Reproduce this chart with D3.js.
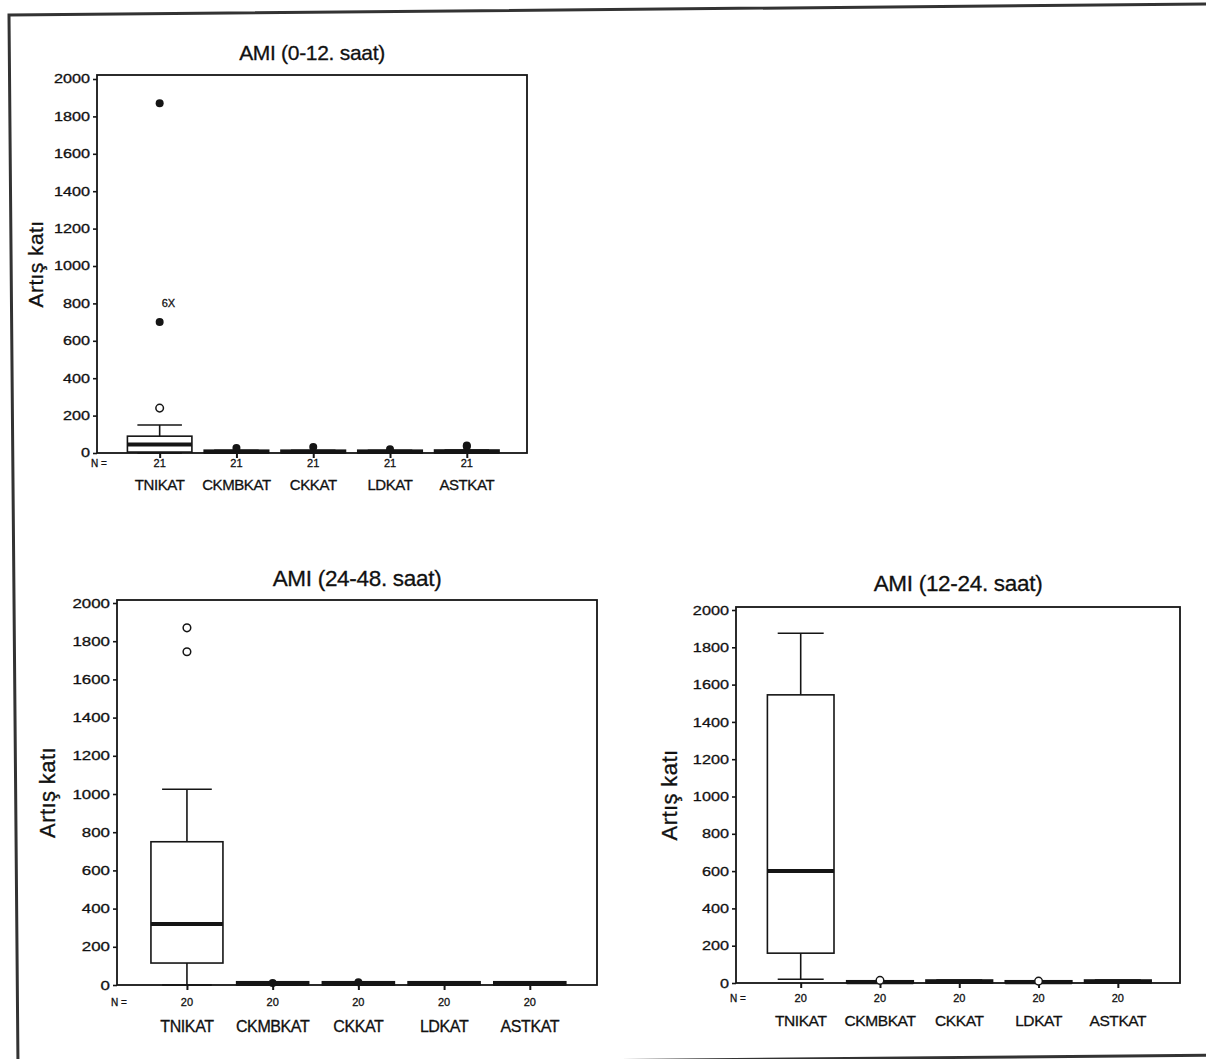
<!DOCTYPE html>
<html><head><meta charset="utf-8">
<script src="https://cdn.jsdelivr.net/npm/d3@7"></script>
<style>
body{margin:0;background:#fff;}
svg{display:block;}
text{font-family:"Liberation Sans",Arial,sans-serif;fill:#111;stroke:#111;stroke-width:0.3px;}
</style></head><body>
<svg id="c" width="1206" height="1059"></svg>
<script>
// ---------- DATA ----------
const categories = ["TNIKAT","CKMBKAT","CKKAT","LDKAT","ASTKAT"];
const yTicks = [0,200,400,600,800,1000,1200,1400,1600,1800,2000];
const titles = ["AMI (0-12. saat)","AMI (24-48. saat)","AMI (12-24. saat)"];
const yLabel = "Artış katı";
const nLabel = "N =";

// 0-12 h
const n0_12 = [21,21,21,21,21];
// [lower whisker, Q1, median, Q3, upper whisker]
const box0_12 = [[0,5,45,90,150],[0,1,5,15,15],[0,1,5,15,15],[0,1,5,15,15],[0,1,6,16,16]];
const outliers0_12 = [[240],[],[],[],[]];
const extremes0_12 = [[700,1870],[27],[32],[20],[35,40]];
const caseLabels0_12 = [{cat:"TNIKAT", v:800, text:"6X"}];

// 24-48 h
const n24_48 = [20,20,20,20,20];
const box24_48 = [[0,115,320,750,1025],[0,1,6,17,17],[0,1,6,17,17],[0,1,6,17,17],[0,1,6,17,17]];
const outliers24_48 = [[1745,1870],[],[],[],[]];
const extremes24_48 = [[],[10],[15],[],[]];

// 12-24 h
const n12_24 = [20,20,20,20,20];
const box12_24 = [[20,160,600,1545,1875],[0,1,4,12,12],[0,1,6,16,16],[0,1,4,12,12],[0,1,6,16,16]];
const outliers12_24 = [[],[14],[],[10],[]];
const extremes12_24 = [[],[],[],[],[]];

// ---------- LAYOUT ----------
const panels = [
  {title:titles[0], n:n0_12, box:box0_12, outl:outliers0_12, ext:extremes0_12, labels:caseLabels0_12,
   left:97, right:527, y0:453, y2000:79, top:75,
   fs:{tick:12, tickSX:1.35, n:11, cat:15, title:21, ylab:21}, nDy:14, catDy:37, titleY:60, ylabX:36},
  {title:titles[1], n:n24_48, box:box24_48, outl:outliers24_48, ext:extremes24_48, labels:[],
   left:117, right:597, y0:985, y2000:603, top:600,
   fs:{tick:13, tickSX:1.3, n:11, cat:16, title:22.5, ylab:22}, nDy:21, catDy:47, titleY:586, ylabX:47},
  {title:titles[2], n:n12_24, box:box12_24, outl:outliers12_24, ext:extremes12_24, labels:[],
   left:736, right:1180, y0:983, y2000:610, top:607,
   fs:{tick:13, tickSX:1.25, n:11, cat:15.5, title:22.5, ylab:22}, nDy:19, catDy:43, titleY:591, ylabX:669}
];

const svg = d3.select("#c");
const ink = "#151515";

// scanned page frame
svg.append("path").attr("d","M9,15 L1215,4 L1224,1055 L18,1066 Z")
  .attr("fill","none").attr("stroke","#333").attr("stroke-width",3);

panels.forEach(p => {
  const g = svg.append("g");
  const y = d3.scaleLinear().domain([0,2000]).range([p.y0,p.y2000]);
  const x = d3.scalePoint().domain(categories).range([p.left,p.right]).padding(0.8).align(0.51);
  const step = x.step();
  const bw = step*0.84, cw = step*0.58;

  // title
  g.append("text").attr("x",(p.left+p.right)/2).attr("y",p.titleY)
    .attr("text-anchor","middle").style("font-size",p.fs.title+"px").style("letter-spacing","-0.3px")
    .text(p.title);

  // y label
  const cy = (p.top+p.y0)/2;
  g.append("text").attr("transform",`translate(${p.ylabX},${cy}) rotate(-90)`)
    .attr("text-anchor","middle").attr("dy","0.35em")
    .style("font-size",p.fs.ylab+"px").style("letter-spacing","0.4px").text(yLabel);

  // y axis
  const ya = g.append("g").attr("transform",`translate(${p.left},0)`)
    .call(d3.axisLeft(y).tickValues(yTicks).tickSize(4).tickPadding(3).tickFormat(d3.format("d")));
  ya.select(".domain").remove();
  ya.selectAll("line").attr("stroke",ink).attr("stroke-width",1.6);
  ya.selectAll("text").style("font-size",p.fs.tick+"px").style("font-family","'Liberation Sans',Arial,sans-serif")
    .attr("fill",ink)
    .style("transform-box","fill-box").style("transform-origin","right center")
    .style("transform",`scaleX(${p.fs.tickSX})`);

  // x axis ticks
  const xa = g.append("g").attr("transform",`translate(0,${p.y0})`)
    .call(d3.axisBottom(x).tickSize(5).tickFormat(""));
  xa.select(".domain").remove();
  xa.selectAll("line").attr("stroke",ink).attr("stroke-width",2);

  // frame
  g.append("rect").attr("x",p.left).attr("y",p.top)
    .attr("width",p.right-p.left).attr("height",p.y0-p.top)
    .attr("fill","none").attr("stroke",ink).attr("stroke-width",1.8);

  // boxes
  categories.forEach((c,i) => {
    const [lo,q1,med,q3,hi] = p.box[i];
    const cx = x(c);
    const bg = g.append("g");
    bg.append("line").attr("x1",cx).attr("x2",cx).attr("y1",y(q3)).attr("y2",y(hi)).attr("stroke",ink).attr("stroke-width",1.6);
    bg.append("line").attr("x1",cx).attr("x2",cx).attr("y1",y(lo)).attr("y2",y(q1)).attr("stroke",ink).attr("stroke-width",1.6);
    bg.append("line").attr("x1",cx-cw/2).attr("x2",cx+cw/2).attr("y1",y(hi)).attr("y2",y(hi)).attr("stroke",ink).attr("stroke-width",1.6);
    bg.append("line").attr("x1",cx-cw/2).attr("x2",cx+cw/2).attr("y1",y(lo)).attr("y2",y(lo)).attr("stroke",ink).attr("stroke-width",1.6);
    bg.append("rect").attr("x",cx-bw/2).attr("y",y(q3)).attr("width",bw).attr("height",y(q1)-y(q3))
      .attr("fill","#fff").attr("stroke",ink).attr("stroke-width",1.6);
    bg.append("line").attr("x1",cx-bw/2).attr("x2",cx+bw/2).attr("y1",y(med)).attr("y2",y(med))
      .attr("stroke",ink).attr("stroke-width",4);

    p.outl[i].forEach(v => {
      g.append("circle").attr("cx",cx).attr("cy",y(v)).attr("r",3.8)
        .attr("fill","#fff").attr("stroke",ink).attr("stroke-width",1.5);
    });
    p.ext[i].forEach(v => {
      g.append("circle").attr("cx",cx).attr("cy",y(v)).attr("r",4).attr("fill",ink);
    });

    // N and category labels
    g.append("text").attr("x",cx).attr("y",p.y0+p.nDy).attr("text-anchor","middle")
      .style("font-size",p.fs.n+"px").text(p.n[i]);
    g.append("text").attr("x",cx).attr("y",p.y0+p.catDy).attr("text-anchor","middle")
      .style("font-size",p.fs.cat+"px").style("letter-spacing","-0.4px").text(c);
  });

  p.labels.forEach(l => {
    g.append("text").attr("x",x(l.cat)+2).attr("y",y(l.v)).attr("dy","0.35em")
      .style("font-size","11px").text(l.text);
  });

  g.append("text").attr("x",p.left+2).attr("y",p.y0+p.nDy).attr("text-anchor","middle")
    .style("font-size","10px").text(nLabel);
});
</script>
</body></html>
